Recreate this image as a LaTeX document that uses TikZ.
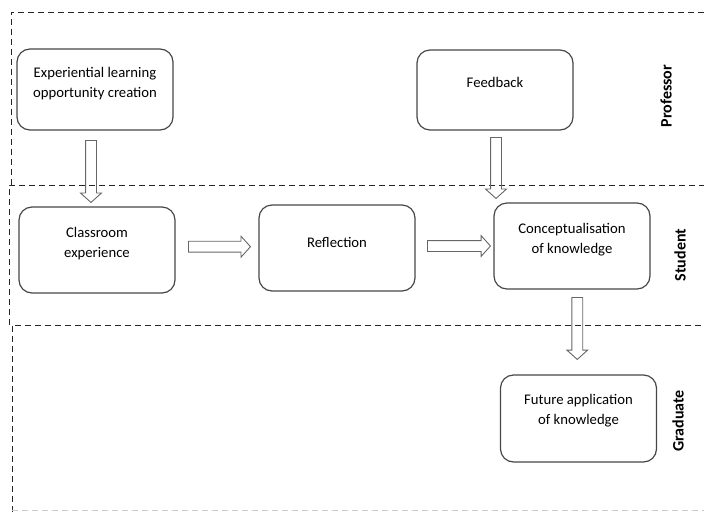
\documentclass[tikz,border=0pt]{standalone}
\usepackage{fontspec}
\setmainfont{Carlito}
\usetikzlibrary{shapes.arrows,calc}
\begin{document}
\begin{tikzpicture}[x=1pt,y=-1pt,
  stage/.style={draw=black!72,line width=1.2pt,rounded corners=13pt,minimum width=156pt,inner sep=0pt},
  stagetext/.style={anchor=center,align=center,font=\fontsize{14.7}{19.5}\selectfont,inner sep=0pt},
  lane/.style={dashed,dash pattern=on 6pt off 4pt,line width=0.9pt,black!85},
  lanelabel/.style={rotate=90,font=\bfseries\fontsize{16}{18}\selectfont,inner sep=0pt},
  hollow/.style={single arrow,draw=black!60,line width=0.9pt,inner xsep=0pt,inner ysep=5pt,
    single arrow head extend=5pt,single arrow head indent=0pt,
    single arrow tip angle=96}]
\useasboundingbox (0,0) rectangle (704,512);

% swim lanes
\draw[lane] (11,185) -- (11,12) -- (704,12);
\draw[lane] (9,325) -- (9,185) -- (704,185);
\draw[lane] (12,512) -- (12,325) -- (704,325);
\draw[lane,black!20] (12,510) -- (704,510);

\node[lanelabel] (prof) at (666,96) {Professor};
\node[lanelabel] (stud) at (680,255) {Student};
\node[lanelabel] (grad) at (678,421) {Graduate};

% stages
\node[stage,minimum height=81pt] (exp) at (95,89.5) {};
\node[stage,minimum height=80pt] (fb) at (495,90) {};
\node[stage,minimum height=86pt] (cls) at (97,250) {};
\node[stage,minimum height=86pt] (refl) at (337,248) {};
\node[stage,minimum height=86pt] (conc) at (572,246) {};
\node[stage,minimum height=87pt] (fut) at (578.5,418.5) {};

\node[stagetext] (exp-t) at ([yshift=-35]exp.north) {Experiential learning\\opportunity creation};
\node[stagetext] (fb-t) at ([yshift=-33]fb.north) {Feedback};
\node[stagetext] (cls-t) at ([yshift=-37]cls.north) {Classroom\\experience};
\node[stagetext] (refl-t) at ([yshift=-38]refl.north) {Reflection};
\node[stagetext] (conc-t) at ([yshift=-37.4]conc.north) {Conceptualisation\\of knowledge};
\node[stagetext] (fut-t) at ([yshift=-36.5]fut.north) {Future application\\of knowledge};

% flow arrows
\node[hollow,minimum height=62pt,rotate=-90] (a1)
  at ($($(exp.south)!0.5!(cls.north)$)+(-5,0.5)$) {};
\node[hollow,minimum height=61pt,rotate=-90] (a2)
  at ($($(fb.south)!0.5!(fb.south|-conc.north)$)+(1,-1)$) {};
\node[hollow,minimum height=62pt] (a3)
  at ($($(cls.east)!0.5!(refl.west)$)+(0,-2.3)$) {};
\node[hollow,minimum height=63pt] (a4)
  at ($($(refl.east)!0.5!(conc.west)$)+(2,-1)$) {};
\node[hollow,minimum height=62pt,rotate=-90] (a5)
  at ($($(conc.south)!0.5!(fut.north)$)+(2,-6)$) {};
\end{tikzpicture}
\end{document}
